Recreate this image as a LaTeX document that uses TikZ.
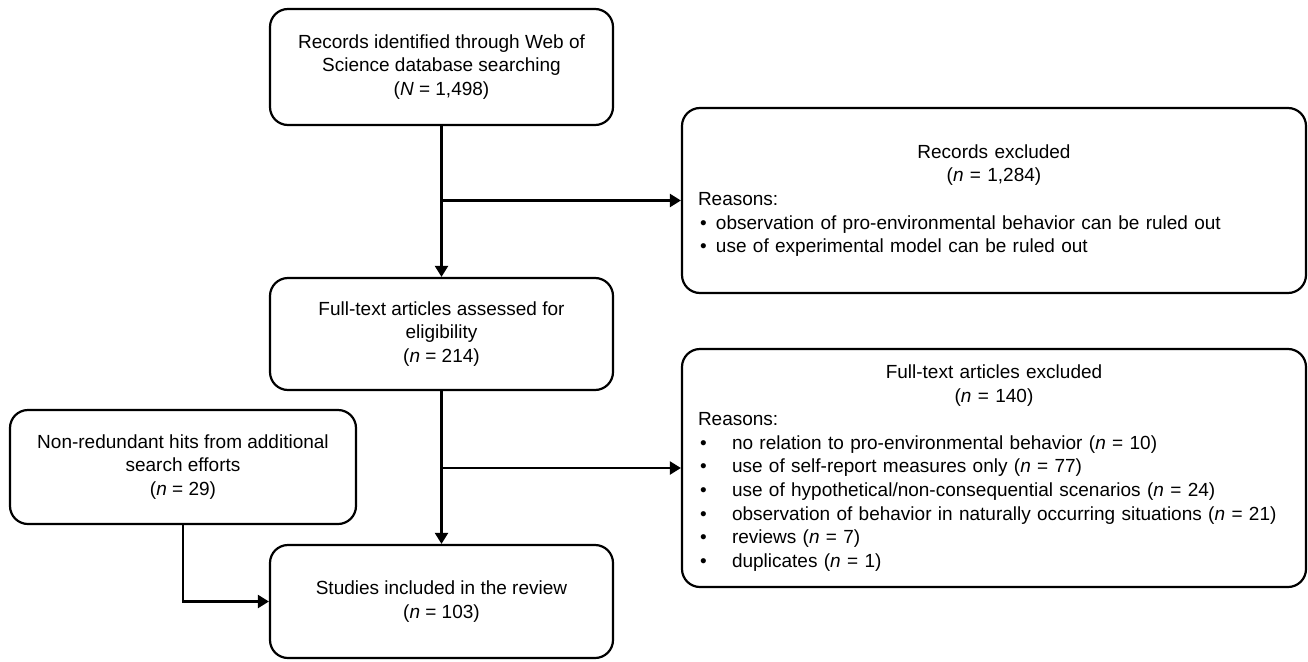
\documentclass[tikz,border=0pt]{standalone}
\usepackage{fontspec}
\setmainfont{Liberation Sans}
\usetikzlibrary{arrows.meta}
\begin{document}
\begin{tikzpicture}[x=1pt,y=-1pt,
  flowbox/.style={draw, line width=2.2pt, rounded corners=18pt, align=center, inner sep=0pt,
    font=\fontsize{19}{23.6}\selectfont},
  listbox/.style={flowbox, align=left, text width=592pt},
  conn/.style={line width=2.2pt, -{Triangle[length=11pt,width=13pt]}}]
\useasboundingbox (0,0) rectangle (1308,661);

\node[flowbox, minimum width=343pt, minimum height=116pt] (id) at (441.5,67)
  {Records identified through Web of\\Science database searching\\(\textit{N} = 1,498)};
\node[flowbox, minimum width=343pt, minimum height=112pt] (ft) at (441.5,334)
  {Full-text articles assessed for\\eligibility\\(\textit{n} = 214)};
\node[flowbox, minimum width=343pt, minimum height=113pt] (inc) at (441.5,601.5)
  {Studies included in the review\\(\textit{n} = 103)};
\node[flowbox, minimum width=346pt, minimum height=114pt] (add) at (183,467)
  {Non-redundant hits from additional\\search efforts\\(\textit{n} = 29)};

\node[listbox, minimum width=624pt, minimum height=185pt] (rex) at (994,200.5)
  {\makebox[\linewidth]{Records excluded}\\
   \makebox[\linewidth]{(\textit{n} = 1,284)}\\
   Reasons:\\
   \hspace*{2pt}\makebox[16pt][l]{•}observation of pro-environmental behavior can be ruled out\\
   \hspace*{2pt}\makebox[16pt][l]{•}use of experimental model can be ruled out};
\node[listbox, minimum width=624pt, minimum height=238pt] (fex) at (994,468)
  {\makebox[\linewidth]{Full-text articles excluded}\\
   \makebox[\linewidth]{(\textit{n} = 140)}\\
   Reasons:\\
   \hspace*{2pt}\makebox[32pt][l]{•}no relation to pro-environmental behavior (\textit{n} = 10)\\
   \hspace*{2pt}\makebox[32pt][l]{•}use of self-report measures only (\textit{n} = 77)\\
   \hspace*{2pt}\makebox[32pt][l]{•}use of hypothetical/non-consequential scenarios (\textit{n} = 24)\\
   \hspace*{2pt}\makebox[32pt][l]{•}observation of behavior in naturally occurring situations (\textit{n} = 21)\\
   \hspace*{2pt}\makebox[32pt][l]{•}reviews (\textit{n} = 7)\\
   \hspace*{2pt}\makebox[32pt][l]{•}duplicates (\textit{n} = 1)};

\draw[conn] (id.south) -- (ft.north);
\draw[conn] (id.south |- rex.west) -- (rex.west);
\draw[conn] (ft.south) -- (inc.north);
\draw[conn] (ft.south |- fex.west) -- (fex.west);
\draw[conn] (add.south) |- (inc.west);
\end{tikzpicture}
\end{document}
